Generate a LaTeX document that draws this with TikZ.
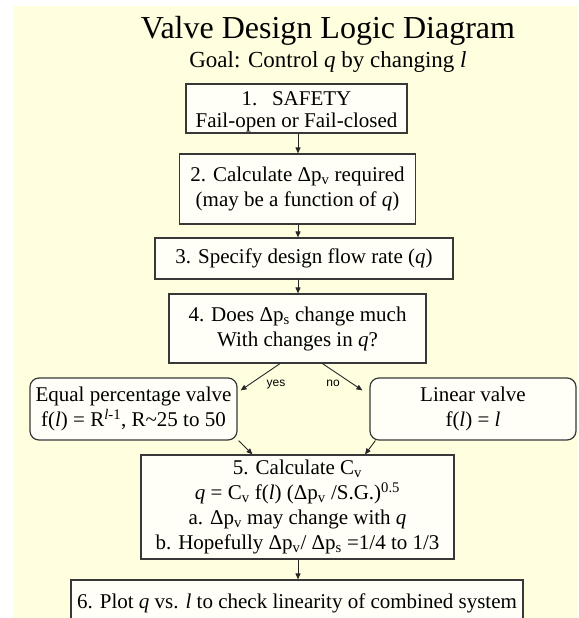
\documentclass[tikz,border=0pt]{standalone}
\usepackage{fontspec}
\setmainfont{Liberation Serif}
\newfontfamily\labelfont{Liberation Sans}
\usetikzlibrary{arrows.meta}
\definecolor{bgcream}{HTML}{FFFFE0}
\definecolor{boxfill}{HTML}{FFFFF8}
\definecolor{boxline}{HTML}{383838}
\begin{document}
\begin{tikzpicture}[x=1pt,y=-1pt,
  box/.style={draw=boxline, line width=1.2pt, fill=boxfill, align=center,
    inner sep=0pt, font=\fontsize{21}{25}\selectfont},
  rbox/.style={box, rounded corners=9pt},
  arr/.style={-{Triangle[length=6pt,width=5pt]}, line width=0.9pt, draw=black!85},
  lbl/.style={font=\labelfont\fontsize{12}{14}\selectfont},
  titletext/.style={anchor=base, font=\fontsize{32}{36}\selectfont},
  subtext/.style={anchor=base, font=\fontsize{23}{26}\selectfont}]
\useasboundingbox (0,0) rectangle (578,618);
\clip (0,0) rectangle (578,618);
\fill[white] (0,0) rectangle (578,618);
\fill[bgcream] (12.5,6) rectangle (578,618);

\node[titletext] (title) at (328,38) {Valve Design Logic Diagram};
\node[subtext] (goal) at (328,67) {Goal: Control \textit{q} by changing \textit{l}};

\node[box, minimum width=221pt, minimum height=49pt] (b1) at (296.5,108.5)
  {\raisebox{-4pt}[\height][\depth]{\renewcommand\arraystretch{0.88}%
   \begin{tabular}{@{}c@{}}1.\hspace{0.7em}SAFETY\\Fail-open or Fail-closed\end{tabular}}};
\node[box, minimum width=236.5pt, minimum height=70pt] (b2) at (297.5,189)
  {2. Calculate Δp\textsubscript{v} required\\(may be a function of \textit{q})};
\node[box, minimum width=298pt, minimum height=41pt] (b3) at (304,258.5)
  {3. Specify design flow rate (\textit{q})};
\node[box, minimum width=257pt, minimum height=69pt] (b4) at (297.5,328.5)
  {4. Does Δp\textsubscript{s} change much\\With changes in \textit{q}?};
\node[rbox, minimum width=207pt, minimum height=62pt] (eq) at (133.5,409)
  {Equal percentage valve\\f(\textit{l}) = R\textsuperscript{\textit{l}-1}, R\textasciitilde25 to 50};
\node[rbox, minimum width=206pt, minimum height=62pt] (lin) at (473,409)
  {Linear valve\\f(\textit{l}) = \textit{l}};
\node[box, minimum width=313pt, minimum height=104pt] (b5) at (297.5,507)
  {5. Calculate C\textsubscript{v}\\
   \textit{q} = C\textsubscript{v} f(\textit{l}) (Δp\textsubscript{v} /S.G.)\textsuperscript{0.5}\\
   a. Δp\textsubscript{v} may change with \textit{q}\\
   b. Hopefully Δp\textsubscript{v}/ Δp\textsubscript{s} =1/4 to 1/3};
\node[box, minimum width=452pt, minimum height=46pt] (b6) at (297,603)
  {6. Plot \textit{q} vs. \textit{l} to check linearity of combined system};

\coordinate (axis) at (298,0);
\draw[arr] (b1.south -| axis) -- (b2.north -| axis);
\draw[arr] (b2.south -| axis) -- (b3.north -| axis);
\draw[arr] (b3.south -| axis) -- (b4.north -| axis);
\draw[arr] (b5.south -| axis) -- (b6.north -| axis);

\draw[arr] ([xshift=-17.5pt]b4.south) -- ([xshift=3pt,yshift=-13pt]eq.north east);
\draw[arr] ([xshift=25pt]b4.south) -- ([xshift=-7pt,yshift=-13pt]lin.north west);
\node[lbl] (yes) at (276,385) {yes};
\node[lbl] (no) at (333,383) {no};

\draw[arr] ([xshift=1pt]eq.south east) -- ([xshift=-45pt]b5.north);
\draw[arr] ([xshift=6pt]lin.south west) -- ([xshift=67.5pt]b5.north);
\end{tikzpicture}
\end{document}
